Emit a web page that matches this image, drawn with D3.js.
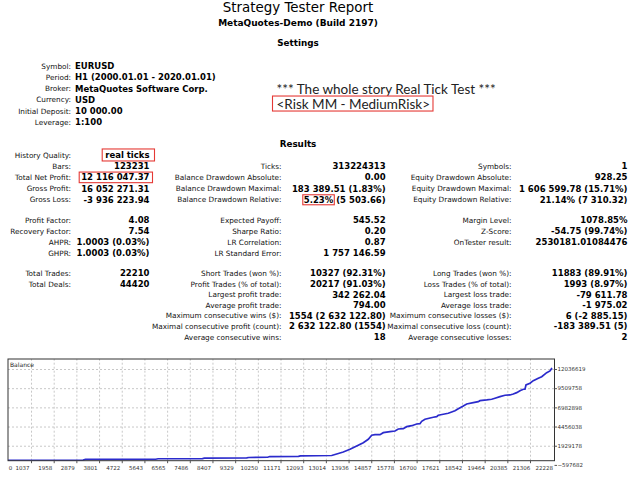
<!DOCTYPE html>
<html>
<head>
<meta charset="utf-8">
<script src="https://cdn.jsdelivr.net/npm/d3@7"></script>
<style>
  body { margin: 0; background: #fff; }
  svg { display: block; }
</style>
</head>
<body>
<svg id="report" width="640" height="480"></svg>
<script>
// ---- report text ----
const settingLabels = ["Symbol:", "Period:", "Broker:", "Currency:", "Initial Deposit:", "Leverage:"];
const settingValues = ["EURUSD", "H1 (2000.01.01 - 2020.01.01)", "MetaQuotes Software Corp.", "USD", "10 000.00", "1:100"];

// block 1
const a1Labels = ["History Quality:", "Bars:", "Total Net Profit:", "Gross Profit:", "Gross Loss:"];
const a1Values = ["real ticks", "123231", "12 116 047.37", "16 052 271.31", "-3 936 223.94"];
const a2Labels = ["", "Ticks:", "Balance Drawdown Absolute:", "Balance Drawdown Maximal:", "Balance Drawdown Relative:"];
const a2Values = ["", "313224313", "0.00", "183 389.51 (1.83%)", "5.23% (5 503.66)"];
const a3Labels = ["", "Symbols:", "Equity Drawdown Absolute:", "Equity Drawdown Maximal:", "Equity Drawdown Relative:"];
const a3Values = ["", "1", "928.25", "1 606 599.78 (15.71%)", "21.14% (7 310.32)"];
// block 2
const b1Labels = ["Profit Factor:", "Recovery Factor:", "AHPR:", "GHPR:"];
const b1Values = ["4.08", "7.54", "1.0003 (0.03%)", "1.0003 (0.03%)"];
const b2Labels = ["Expected Payoff:", "Sharpe Ratio:", "LR Correlation:", "LR Standard Error:"];
const b2Values = ["545.52", "0.20", "0.87", "1 757 146.59"];
const b3Labels = ["Margin Level:", "Z-Score:", "OnTester result:"];
const b3Values = ["1078.85%", "-54.75 (99.74%)", "2530181.01084476"];
// block 3
const c1Labels = ["Total Trades:", "Total Deals:"];
const c1Values = ["22210", "44420"];
const c2Labels = ["Short Trades (won %):", "Profit Trades (% of total):", "Largest profit trade:", "Average profit trade:",
  "Maximum consecutive wins ($):", "Maximal consecutive profit (count):", "Average consecutive wins:"];
const c2Values = ["10327 (92.31%)", "20217 (91.03%)", "342 262.04", "794.00", "1554 (2 632 122.80)", "2 632 122.80 (1554)", "18"];
const c3Labels = ["Long Trades (won %):", "Loss Trades (% of total):", "Largest loss trade:", "Average loss trade:",
  "Maximum consecutive losses ($):", "Maximal consecutive loss (count):", "Average consecutive losses:"];
const c3Values = ["11883 (89.91%)", "1993 (8.97%)", "-79 611.78", "-1 975.02", "6 (-2 885.15)", "-183 389.51 (5)", "2"];

// ---- balance chart ----
const tradeNo = [0, 3150, 3250, 6100, 6200, 8000, 8080, 9800, 9880, 10650, 10730, 11900, 11980, 13250,
  13453, 13721, 13994, 14266, 14534, 14737, 14875, 15009, 15212, 15346, 15619, 15822, 15956, 16159,
  16297, 16500, 16703, 16837, 16906, 17040, 17377, 17515, 17580, 17783, 17986, 18124, 18258, 18393,
  18596, 18734, 19002, 19205, 19274, 19546, 19749, 19883, 20086, 20290, 20493, 20627, 20765, 20899,
  21033, 21102, 21143, 21305, 21439, 21643, 21781, 21984, 22118, 22180, 22210];
const balance = [10000, 40000, 120000, 150000, 210000, 240000, 290000, 320000, 380000, 410000, 500000, 530000, 600000, 640000,
  839000, 1102700, 1458600, 1893600, 2328600, 2776700, 3304000, 3383000, 3383000, 3646700, 3778500, 3870800, 4134400, 4174000,
  4437600, 4569400, 4793500, 4833000, 5149400, 5413000, 5676600, 5755700, 5940200, 6072000, 6203900, 6375200, 6546600, 6810200,
  7166100, 7429700, 7601100, 7732900, 7864700, 7957000, 8049200, 8181000, 8392000, 8576500, 8616000, 8747900, 8919200, 9182800,
  9367400, 9367400, 9934200, 10158300, 10501000, 10817300, 11028200, 11555500, 11779600, 12080000, 12126047];
const xTickValues = [0, 1037, 1958, 2879, 3801, 4722, 5643, 6565, 7486, 8407, 9329, 10250, 11171, 12093,
  13014, 13936, 14857, 15778, 16700, 17621, 18542, 19464, 20385, 21306, 22228];
const yTickValues = [-597682, 1929178, 4456038, 6982898, 9509758, 12036619];

const svg = d3.select("#report");
const labelFont = "'DejaVu Sans', sans-serif";

// headers
function header(txt, cy, size, weight) {
  svg.append("text")
    .attr("x", 298).attr("y", cy).attr("dy", "0.35em")
    .attr("text-anchor", "middle")
    .style("font-family", labelFont)
    .style("font-size", size + "px")
    .style("font-weight", weight)
    .text(txt);
}
header("Strategy Tester Report", 7.5, 13.4, 400);
header("MetaQuotes-Demo (Build 2197)", 22.8, 9, 700);
header("Settings", 43.3, 8.8, 700);
header("Results", 144, 8.8, 700);

// one column of label : value rows
function rows(labels, values, y0, step, labelX, valueX, valueAnchor) {
  const g = svg.append("g");
  g.selectAll("text.lab")
    .data(labels)
    .join("text")
    .attr("class", "lab")
    .attr("x", labelX)
    .attr("y", (d, i) => y0 + i * step)
    .attr("dy", "0.35em")
    .attr("text-anchor", "end")
    .style("font-family", labelFont)
    .style("font-size", "7.3px")
    .style("fill", "#111")
    .text(d => d);
  return g.selectAll("text.val")
    .data(values)
    .join("text")
    .attr("class", "val")
    .attr("x", valueX)
    .attr("y", (d, i) => y0 + i * step)
    .attr("dy", "0.35em")
    .attr("text-anchor", valueAnchor)
    .style("font-family", labelFont)
    .style("font-size", "8.5px")
    .style("font-weight", 700)
    .text(d => d);
}

rows(settingLabels, settingValues, 66, 11.3, 71, 75, "start");

const labX = [71, 281.5, 511.5];
const valX = [149.5, 385.7, 627.5];
const va1 = rows(a1Labels, a1Values, 155, 11.2, labX[0], valX[0], "end");
const va2 = rows(a2Labels, a2Values, 155, 11.2, labX[1], valX[1], "end");
rows(a3Labels, a3Values, 155, 11.2, labX[2], valX[2], "end");
rows(b1Labels, b1Values, 220.3, 11.05, labX[0], valX[0], "end");
rows(b2Labels, b2Values, 220.3, 11.05, labX[1], valX[1], "end");
rows(b3Labels, b3Values, 220.3, 11.05, labX[2], valX[2], "end");
rows(c1Labels, c1Values, 273.5, 10.6, labX[0], valX[0], "end");
rows(c2Labels, c2Values, 273.5, 10.6, labX[1], valX[1], "end");
rows(c3Labels, c3Values, 273.5, 10.6, labX[2], valX[2], "end");

// comment lines
const note1 = svg.append("text")
  .attr("x", 276.5).attr("y", 89.3).attr("dy", "0.35em")
  .style("font-family", "Lato, sans-serif").style("font-size", "13.5px").style("fill", "#222")
  .text("*** The whole story Real Tick Test ***");
const note2 = svg.append("text")
  .attr("x", 276.5).attr("y", 103.8).attr("dy", "0.35em")
  .style("font-family", "Lato, sans-serif").style("font-size", "13.5px").style("fill", "#222")
  .text("<Risk MM - MediumRisk>");

// red boxes
function redBox(node, first, last, padL, padR, padV) {
  const a = node.getExtentOfChar(first);
  const b = node.getExtentOfChar(last);
  const bb = node.getBBox();
  svg.append("rect")
    .attr("x", a.x - padL)
    .attr("y", bb.y - padV)
    .attr("width", b.x + b.width - a.x + padL + padR)
    .attr("height", bb.height + 2 * padV)
    .attr("fill", "none")
    .attr("stroke", "#e53935")
    .attr("stroke-width", 1.1);
}
const v1 = va1.nodes();
redBox(v1[0], 0, 9, 3, 5, 1);
redBox(v1[2], 0, 12, 2, 3, 0.3);
redBox(va2.nodes()[4], 0, 4, 1, 1, 0);
redBox(note2.node(), 0, 21, 4, 3, -0.5);

// ---- chart ----
const frame = { left: 8, right: 554.5, top: 359, bottom: 460.7 };
const x = d3.scaleLinear().domain([0, 22228]).range([5.5, 552.7]);
const y = d3.scaleLinear().domain([-597682, 12036619]).range([464.9, 369]);

const chart = svg.append("g");

// grid
chart.append("g")
  .attr("transform", `translate(0,${frame.bottom})`)
  .call(d3.axisBottom(x)
    .tickValues(xTickValues.filter(v => x(v) > frame.left + 3 && x(v) < frame.right - 3))
    .tickSize(-(frame.bottom - frame.top)).tickFormat(""))
  .call(g => g.select(".domain").remove())
  .selectAll("line")
  .attr("stroke", "#c8c8c8").attr("stroke-dasharray", "2,2");

chart.append("g")
  .attr("transform", `translate(${frame.left},0)`)
  .call(d3.axisRight(y)
    .tickValues(yTickValues.filter(v => y(v) < frame.bottom - 2))
    .tickSize(frame.right - frame.left).tickFormat(""))
  .call(g => g.select(".domain").remove())
  .selectAll("line")
  .attr("stroke", "#c8c8c8").attr("stroke-dasharray", "2,2");

// balance line
svg.append("defs").append("clipPath").attr("id", "plot")
  .append("rect")
  .attr("x", frame.left).attr("y", frame.top)
  .attr("width", frame.right - frame.left).attr("height", frame.bottom - frame.top);

const line = d3.line()
  .x(d => x(d[0]))
  .y(d => y(d[1]));

chart.append("path")
  .datum(tradeNo.map((t, i) => [t, balance[i]]))
  .attr("clip-path", "url(#plot)")
  .attr("fill", "none")
  .attr("stroke", "#2b2bcc")
  .attr("stroke-width", 1.7)
  .attr("d", line);

// frame
chart.append("rect")
  .attr("x", frame.left).attr("y", frame.top)
  .attr("width", frame.right - frame.left).attr("height", frame.bottom - frame.top)
  .attr("fill", "none").attr("stroke", "#333").attr("stroke-width", 1);

chart.append("text")
  .attr("x", frame.left + 2).attr("y", 364.5).attr("dy", "0.35em")
  .style("font-family", labelFont).style("font-size", "6px").style("fill", "#222")
  .text("Balance");

// x axis labels
chart.append("g")
  .attr("transform", `translate(0,${frame.bottom})`)
  .call(d3.axisBottom(x).tickValues(xTickValues).tickSize(2.5).tickPadding(3)
    .tickSizeOuter(0).tickFormat(d3.format("d")))
  .call(g => g.select(".domain").remove())
  .call(g => g.selectAll(".tick line")
    .attr("stroke", "#555")
    .attr("display", d => (x(d) > frame.left + 3 && x(d) < frame.right - 3) ? null : "none"))
  .call(g => g.selectAll(".tick text")
    .attr("x", d => Math.max(x(d) - 9, 10) - x(d))
    .style("font-family", labelFont).style("font-size", "5.5px").style("fill", "#333"));

// y axis labels
chart.append("g")
  .attr("transform", `translate(${frame.right},0)`)
  .call(d3.axisRight(y).tickValues(yTickValues).tickSize(2.5).tickPadding(0.5)
    .tickSizeOuter(0).tickFormat(d3.format("d")))
  .call(g => g.select(".domain").remove())
  .call(g => g.selectAll(".tick line").attr("stroke", "#555"))
  .call(g => g.selectAll(".tick text")
    .style("font-family", labelFont).style("font-size", "5.5px").style("fill", "#333"));
</script>
</body>
</html>
